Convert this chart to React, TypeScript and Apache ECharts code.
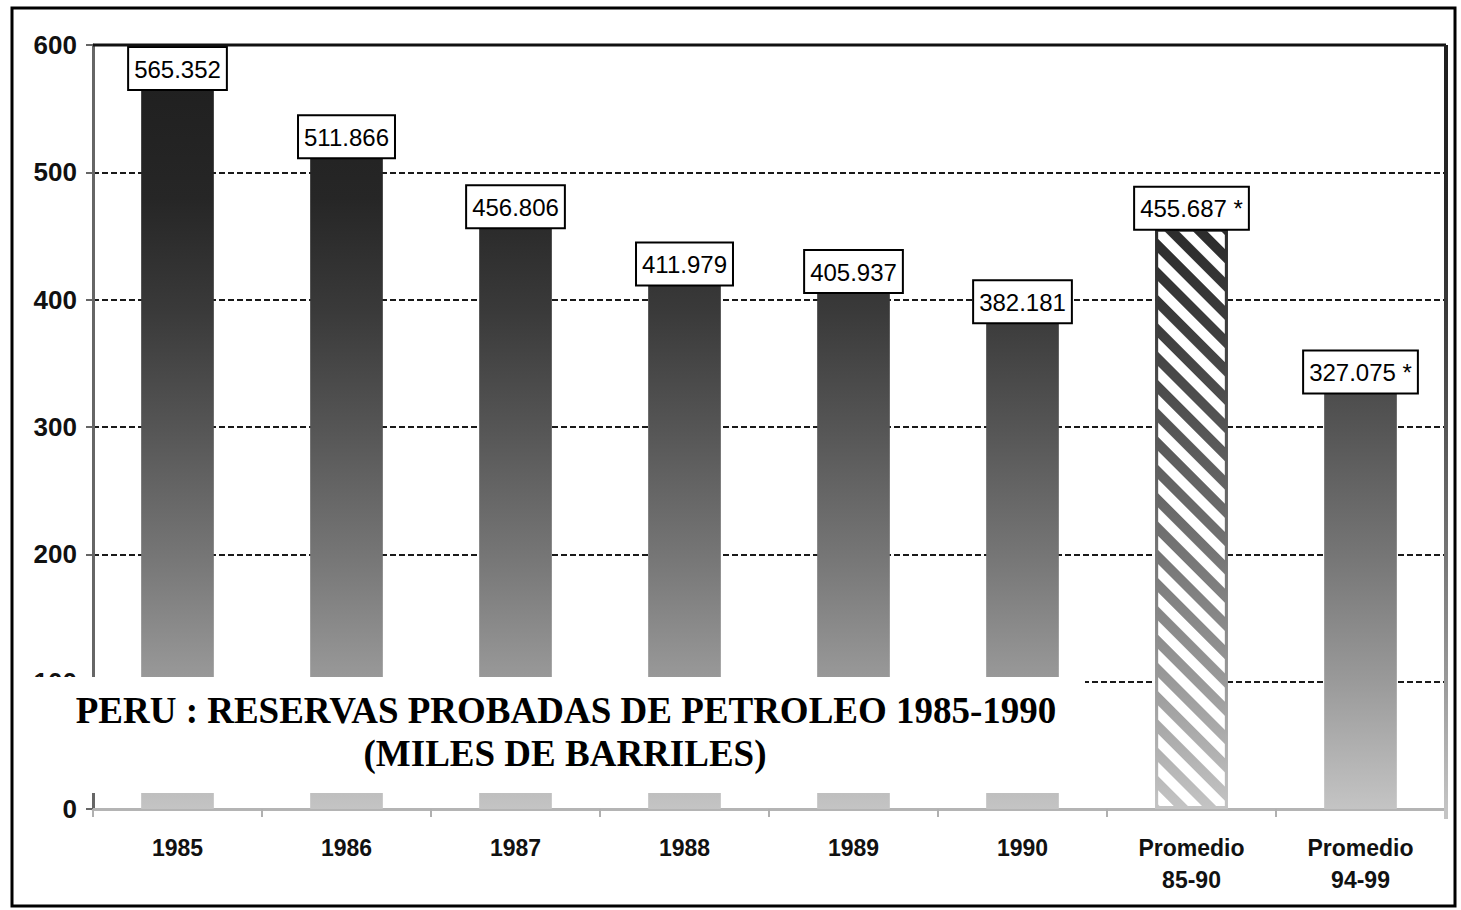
import React, { useEffect, useRef } from "react";
import * as echarts from "echarts";

const categories = ["1985", "1986", "1987", "1988", "1989", "1990", "Promedio\n85-90", "Promedio\n94-99"];
const values = [565.352, 511.866, 456.806, 411.979, 405.937, 382.181, 455.687, 327.075];
const valueLabels = ["565.352", "511.866", "456.806", "411.979", "405.937", "382.181", "455.687 *", "327.075 *"];
const hatched = [false, false, false, false, false, false, true, false];
const yTicks = [0, 100, 200, 300, 400, 500, 600];
const titleLines = ["PERU : RESERVAS PROBADAS DE PETROLEO 1985-1990", "(MILES DE BARRILES)"];

const GRID_TOP = 45;
const GRID_BOTTOM_Y = 809;

function barGradient() {
  return {
    type: "linear",
    x: 0,
    y: GRID_TOP,
    x2: 0,
    y2: GRID_BOTTOM_Y,
    global: true,
    colorStops: [
      { offset: 0, color: "#1e1e1e" },
      { offset: 0.2, color: "#262626" },
      { offset: 0.35, color: "#3a3a3a" },
      { offset: 0.5, color: "#555555" },
      { offset: 0.67, color: "#767676" },
      { offset: 0.83, color: "#999999" },
      { offset: 1, color: "#c4c4c4" },
    ],
  };
}

export default function App() {
  const ref = useRef<HTMLDivElement>(null);
  useEffect(() => {
    if (!ref.current) return;
    const chart = echarts.init(ref.current, undefined, { renderer: "svg" });
    const data = values.map((v, i) => {
      const item: any = { value: v, label: { formatter: valueLabels[i] } };
      if (hatched[i]) {
        item.itemStyle = {
          color: barGradient(),
          borderColor: barGradient(),
          borderWidth: 3,
          decal: {
            symbol: "rect",
            color: "#ffffff",
            dashArrayX: [1, 0],
            dashArrayY: [10, 10],
            rotation: Math.PI / 4,
            symbolSize: 1,
          },
        };
      }
      return item;
    });
    chart.setOption({
      animation: false,
      backgroundColor: "#ffffff",
      grid: { left: 93, right: 1461 - 1445, top: GRID_TOP, bottom: 910 - GRID_BOTTOM_Y },
      xAxis: {
        type: "category",
        data: categories,
        axisLine: { lineStyle: { color: "#b4b4b4", width: 3 } },
        axisTick: { show: true, length: 8, lineStyle: { color: "#b0b0b0", width: 2 } },
        axisLabel: {
          color: "#111",
          fontFamily: "Liberation Sans, Arial, sans-serif",
          fontWeight: "bold",
          fontSize: 23,
          lineHeight: 32,
          margin: 23,
        },
      },
      yAxis: {
        type: "value",
        min: 0,
        max: 600,
        interval: 100,
        axisLine: { show: true, lineStyle: { color: "#666", width: 3 } },
        axisTick: { show: true, length: 7, lineStyle: { color: "#666", width: 2 } },
        axisLabel: {
          color: "#111",
          fontFamily: "Liberation Sans, Arial, sans-serif",
          fontWeight: "bold",
          fontSize: 26,
          margin: 16,
          formatter: (v: number) => (yTicks.includes(v) ? String(v) : ""),
        },
        splitLine: { show: true, lineStyle: { color: "#1a1a1a", width: 2, type: [6, 3] } },
      },
      series: [
        {
          type: "bar",
          data,
          barWidth: "43%",
          itemStyle: { color: barGradient() },
          label: {
            show: true,
            position: "top",
            distance: 0,
            color: "#000",
            fontFamily: "Liberation Sans, Arial, sans-serif",
            fontSize: 24,
            lineHeight: 24,
            backgroundColor: "#ffffff",
            borderColor: "#000",
            borderWidth: 2,
            padding: [9, 5, 8, 5],
          },
        },
      ],
      graphic: [
        {
          type: "line",
          z: 50,
          shape: { x1: 93, y1: GRID_TOP, x2: 1446, y2: GRID_TOP },
          style: { stroke: "#111", lineWidth: 3 },
        },
        {
          type: "line",
          z: 50,
          shape: { x1: 1446, y1: GRID_TOP, x2: 1446, y2: GRID_BOTTOM_Y + 10 },
          style: { stroke: barGradient() as any, lineWidth: 4 },
        },
        {
          type: "rect",
          z: 100,
          shape: { x: 15, y: 677, width: 1070, height: 116 },
          style: { fill: "#ffffff" },
        },
        {
          type: "text",
          z: 101,
          x: 566,
          y: 710,
          style: {
            text: titleLines[0],
            fill: "#000",
            font: "bold 37px 'Liberation Serif', 'Times New Roman', serif",
            align: "center",
            verticalAlign: "middle",
          },
        },
        {
          type: "text",
          z: 101,
          x: 565,
          y: 753,
          style: {
            text: titleLines[1],
            fill: "#000",
            font: "bold 37px 'Liberation Serif', 'Times New Roman', serif",
            align: "center",
            verticalAlign: "middle",
          },
        },
        {
          type: "rect",
          z: 102,
          shape: { x: 12, y: 8, width: 1443, height: 898 },
          style: { fill: "none", stroke: "#000", lineWidth: 3 },
        },
      ],
    });
    return () => chart.dispose();
  }, []);
  return (
    <div
      ref={ref}
      style={{ position: "fixed", left: 0, top: 0, width: 1461, height: 910, background: "#fff" }}
    />
  );
}
